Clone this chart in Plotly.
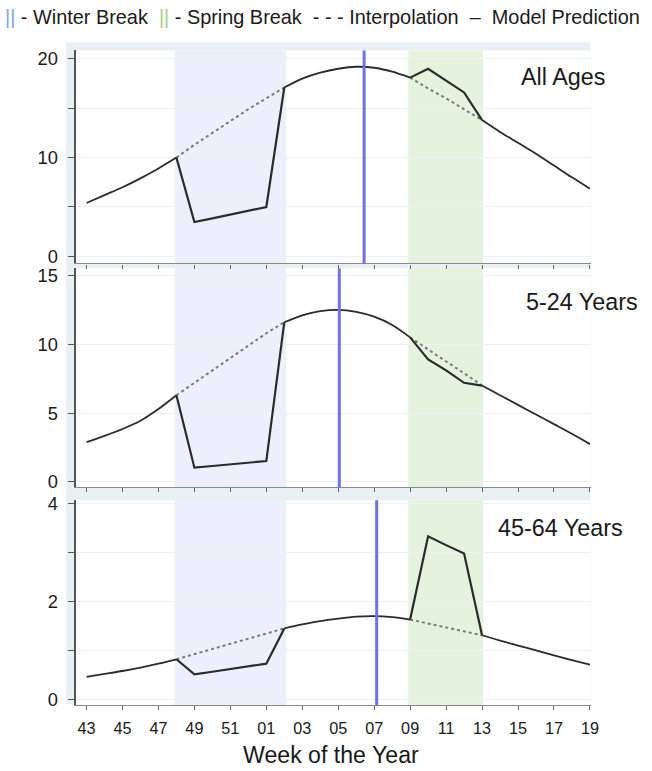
import plotly.graph_objects as go

W, H = 652, 771

# ---------------- data ----------------
weeks = ["43", "44", "45", "46", "47", "48", "49", "50", "51", "52",
         "01", "02", "03", "04", "05", "06", "07", "08", "09", "10",
         "11", "12", "13", "14", "15", "16", "17", "18", "19"]

panel_names = ["All Ages", "5-24 Years", "45-64 Years"]

model_all = [5.4, 6.2, 7.0, 7.9, 8.9, 10.0, 11.3, 12.5, 13.7, 14.9, 16.0, 17.1,
             18.0, 18.6, 19.0, 19.2, 19.1, 18.7, 18.1, 17.0, 16.0, 14.9, 13.8,
             12.6, 11.5, 10.4, 9.2, 8.0, 6.85]
obs_all = [None] * 5 + [10.0, 3.47, 3.85, 4.23, 4.61, 5.0, 17.1] + [None] * 6 + \
          [18.1, 19.0, 17.8, 16.6, 13.8] + [None] * 6

model_5_24 = [2.9, 3.35, 3.85, 4.45, 5.3, 6.3, 7.2, 8.1, 9.0, 9.9, 10.8, 11.6,
              12.1, 12.4, 12.5, 12.35, 12.0, 11.4, 10.5, 9.6, 8.75, 7.9, 7.0,
              6.3, 5.6, 4.9, 4.2, 3.5, 2.75]
obs_5_24 = [None] * 5 + [6.3, 1.04, 1.16, 1.28, 1.4, 1.52, 11.6] + [None] * 6 + \
           [10.5, 8.9, 8.1, 7.2, 7.0] + [None] * 6

model_45_64 = [0.46, 0.52, 0.58, 0.65, 0.73, 0.82, 0.925, 1.03, 1.13, 1.24, 1.34, 1.45,
               1.53, 1.60, 1.65, 1.69, 1.70, 1.68, 1.63, 1.55, 1.47, 1.39, 1.31,
               1.20, 1.10, 1.00, 0.90, 0.80, 0.71]
obs_45_64 = [None] * 5 + [0.82, 0.51, 0.565, 0.62, 0.675, 0.73, 1.45] + [None] * 6 + \
            [1.63, 3.33, 3.15, 2.98, 1.31] + [None] * 6

models = [model_all, model_5_24, model_45_64]
observed = [obs_all, obs_5_24, obs_45_64]

winter_idx = (5, 11)      # first / last week index of the winter-break segment
spring_idx = (18, 22)     # first / last week index of the spring-break segment
winter_shade = (4.9, 11.1)
spring_shade = (17.9, 22.05)
peak_pos = [15.44, 14.06, 16.14]   # blue vertical line (x position in week index)

y_tickvals = [[0, 5, 10, 15, 20], [0, 5, 10, 15], [0, 1, 2, 3, 4]]
y_ticktext = [["0", "", "10", "", "20"], ["0", "5", "10", "15"], ["0", "", "2", "", "4"]]

# ---------------- layout geometry (pixels of the target picture) ----------------
FONT = "Liberation Sans, Arial, sans-serif"
SC = 0.985          # compensation for the capture scaling
OX, OY = 1.0, 6.5
x_left_px, x_right_px = 77, 590
panel_px = [(50, 263), (268, 487), (500, 705)]        # top, bottom of each plot area
y_ranges = [[-0.71, 20.85], [-0.38, 15.51], [-0.116, 4.067]]
x_range = [-0.574, 28.04]
label_pos = [(562, 77), (581, 302), (560, 528)]


def px_x(p):
    return ((p - OX) / SC) / W


def px_y(p):
    return 1 - ((p - OY) / SC) / H


def fs(s):
    return s / SC


x_idx = list(range(len(weeks)))

fig = go.Figure()


def in_segment(i, seg):
    return seg[0] <= i <= seg[1]


def inside(i, seg):
    return seg[0] < i < seg[1]


for k in range(3):
    xa = "x" if k == 0 else f"x{k+1}"
    ya = "y" if k == 0 else f"y{k+1}"
    m = models[k]
    solid = [None if (inside(i, winter_idx) or inside(i, spring_idx)) else v
             for i, v in enumerate(m)]
    dashed_w = [v if in_segment(i, winter_idx) else None for i, v in enumerate(m)]
    dashed_s = [v if in_segment(i, spring_idx) else None for i, v in enumerate(m)]
    for d in (dashed_w, dashed_s):
        fig.add_trace(go.Scatter(x=x_idx, y=d, mode="lines", xaxis=xa, yaxis=ya,
                                 line=dict(color="#7a7a7a", width=2, dash="3px,3px"),
                                 connectgaps=False, showlegend=False, hoverinfo="skip"))
    fig.add_trace(go.Scatter(x=x_idx, y=solid, mode="lines", xaxis=xa, yaxis=ya,
                             line=dict(color="#2b2b2b", width=1.8, shape="spline", smoothing=0.8),
                             connectgaps=False, showlegend=False, hoverinfo="skip"))
    fig.add_trace(go.Scatter(x=x_idx, y=observed[k], mode="lines", xaxis=xa, yaxis=ya,
                             line=dict(color="#2b2b2b", width=2.2),
                             connectgaps=False, showlegend=False, hoverinfo="skip"))

shapes = []
# light frame band
shapes.append(dict(type="rect", xref="paper", yref="paper", layer="below",
                   x0=px_x(67), x1=px_x(x_right_px), y0=px_y(704), y1=px_y(42),
                   fillcolor="#e8f0f3", line=dict(width=0)))
for k in range(3):
    top, bot = panel_px[k]
    shapes.append(dict(type="rect", xref="paper", yref="paper", layer="below",
                       x0=px_x(x_left_px), x1=px_x(x_right_px), y0=px_y(bot), y1=px_y(top),
                       fillcolor="white", line=dict(width=0)))
for k in range(3):
    xa = "x" if k == 0 else f"x{k+1}"
    ya = "y" if k == 0 else f"y{k+1}"
    shapes.append(dict(type="rect", xref=xa, yref=f"{ya} domain", layer="below",
                       x0=winter_shade[0], x1=winter_shade[1], y0=0, y1=1,
                       fillcolor="#edf0fc", line=dict(width=0)))
    shapes.append(dict(type="rect", xref=xa, yref=f"{ya} domain", layer="below",
                       x0=spring_shade[0], x1=spring_shade[1], y0=0, y1=1,
                       fillcolor="#e4f3dd", line=dict(width=0)))
    shapes.append(dict(type="line", xref=xa, yref=f"{ya} domain", layer="above",
                       x0=peak_pos[k], x1=peak_pos[k], y0=0, y1=1,
                       line=dict(color="#6f6ff4", width=3)))

annotations = []
for k in range(3):
    lx, ly = label_pos[k]
    annotations.append(dict(text=panel_names[k], xref="paper", yref="paper",
                            x=px_x(lx), y=px_y(ly), xanchor="center", yanchor="middle",
                            showarrow=False, font=dict(family=FONT, size=fs(23), color="#1a1a1a")))

legend_text = ("<span style='color:#7fa6e2'>||</span> - Winter Break  "
               "<span style='color:#a6cf86'>||</span> - Spring Break  - - - Interpolation  \u2013  Model Prediction")
annotations.append(dict(text=legend_text, xref="paper", yref="paper",
                        x=px_x(4), y=px_y(17), xanchor="left", yanchor="middle",
                        showarrow=False, font=dict(family=FONT, size=fs(19.6), color="#1a1a1a")))
annotations.append(dict(text="Week of the Year", xref="paper", yref="paper",
                        x=px_x(331), y=px_y(755), xanchor="center", yanchor="middle",
                        showarrow=False, font=dict(family=FONT, size=fs(22.8), color="#1a1a1a")))

layout = dict(width=W, height=H, margin=dict(l=0, r=0, t=0, b=0),
              paper_bgcolor="white", plot_bgcolor="rgba(0,0,0,0)",
              shapes=shapes, annotations=annotations, showlegend=False,
              font=dict(family=FONT, color="#1a1a1a"))

for k in range(3):
    top, bot = panel_px[k]
    xkey = "xaxis" if k == 0 else f"xaxis{k+1}"
    ykey = "yaxis" if k == 0 else f"yaxis{k+1}"
    ya = "y" if k == 0 else f"y{k+1}"
    xa = "x" if k == 0 else f"x{k+1}"
    layout[xkey] = dict(domain=[px_x(x_left_px), px_x(x_right_px)], anchor=ya,
                        range=x_range, tickmode="array",
                        tickvals=x_idx[::2], ticktext=weeks[::2],
                        showticklabels=(k == 2), ticks="outside", ticklen=4,
                        tickcolor="#666", tickwidth=1.2,
                        showline=True, linecolor="#8a8a8a", linewidth=1.3,
                        showgrid=False, zeroline=False, fixedrange=True,
                        ticklabelstandoff=4,
                        tickfont=dict(family=FONT, size=fs(16), color="#1a1a1a"))
    layout[ykey] = dict(domain=[px_y(bot), px_y(top)], anchor=xa,
                        range=y_ranges[k], tickmode="array",
                        tickvals=y_tickvals[k], ticktext=y_ticktext[k],
                        ticks="outside", ticklen=6, tickcolor="#555", tickwidth=1.2,
                        showline=True, linecolor="#555", linewidth=1.5,
                        showgrid=True, gridcolor="#eef2f4", gridwidth=1,
                        zeroline=False, fixedrange=True, ticklabelstandoff=7,
                        tickfont=dict(family=FONT, size=fs(18), color="#1a1a1a"))

fig.update_layout(**layout)
fig.write_html("out.html", config={"displayModeBar": False},
               post_script="document.body.style.margin='0px';")
